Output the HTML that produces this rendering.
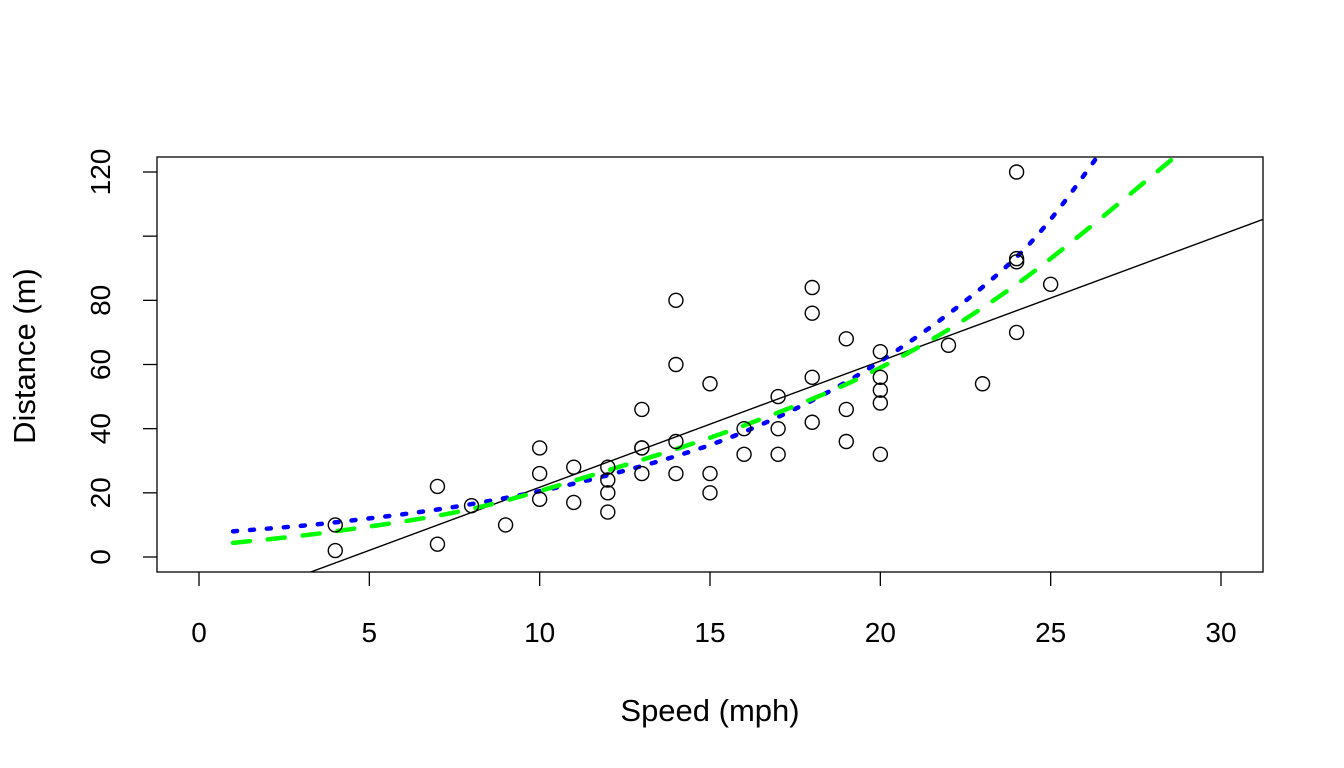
<!DOCTYPE html>
<html><head><meta charset="utf-8"><style>
html,body{margin:0;padding:0;background:#fff}
svg{display:block;font-family:"Liberation Sans",Arial,sans-serif}
</style></head><body>
<svg id="chart" width="1344" height="768">
<defs><clipPath id="pc"><rect x="157" y="157" width="1106" height="415"/></clipPath></defs>
<rect x="157" y="157" width="1106" height="415" fill="none" stroke="#000" stroke-width="1.3"/>
<g id="axes"></g>
<g id="marks" clip-path="url(#pc)"></g>
<text x="710" y="721" font-size="31" text-anchor="middle">Speed (mph)</text>
<text transform="translate(35,356) rotate(-90)" font-size="31" text-anchor="middle">Distance (m)</text>
</svg>
<script>
const speeds=[4,4,7,7,8,9,10,10,10,11,11,12,12,12,12,13,13,13,13,14,14,14,14,15,15,15,16,16,17,17,17,18,18,18,18,19,19,19,20,20,20,20,20,22,23,24,24,24,24,25];
const dists=[2,10,4,22,16,10,18,26,34,17,28,14,20,24,28,26,34,34,46,26,36,60,80,20,26,54,32,40,32,40,50,42,56,76,84,36,46,68,32,48,52,56,64,66,54,70,92,93,120,85];
const lmCoef=[-17.579,3.932];
const blueX=[1,4,8,12,16,20,24,26.6];
const blueY=[8,10.8,16.5,25.5,39,61,93.5,128];
const greenX=[1,4,8,12,16,20,24,28.8];
const greenY=[4.4,8,15,27,41,59,85,126];
const xTicks=[0,5,10,15,20,25,30];
const yTicks=[0,20,40,60,80,100,120];
const yTickLabels=["0","20","40","60","80","","120"];
const NS="http://www.w3.org/2000/svg";
const sx=v=>199+v*(1221-199)/30;
const sy=v=>557-v*(557-172)/120;
function mk(t,a,p){const e=document.createElementNS(NS,t);for(const k in a)e.setAttribute(k,a[k]);p.appendChild(e);return e;}
const axes=document.getElementById('axes'),marks=document.getElementById('marks');
xTicks.forEach(t=>{
 const l=mk('line',{x1:sx(t),x2:sx(t),y1:572,y2:586,stroke:'#000','stroke-width':1.3},axes);
 
 
 const tx=mk('text',{x:sx(t),y:642,'font-size':28,'text-anchor':'middle'},axes);tx.textContent=t;
 
 
});
yTicks.forEach((t,i)=>{
 const l=mk('line',{x1:143,x2:157,y1:sy(t),y2:sy(t),stroke:'#000','stroke-width':1.3},axes);
 
 
 const tx=mk('text',{transform:`translate(110,${sy(t)}) rotate(-90)`,'font-size':28,'text-anchor':'middle'},axes);tx.textContent=yTickLabels[i];
 
 
});
const lx0=0,lx1=32;
const fl=mk('line',{x1:sx(lx0),y1:sy(lmCoef[0]+lmCoef[1]*lx0),x2:sx(lx1),y2:sy(lmCoef[0]+lmCoef[1]*lx1),stroke:'#000','stroke-width':1.4},marks);


function smooth(xs,ys){
 const p=xs.map((x,i)=>[sx(x),sy(ys[i])]);let d=`M${p[0][0]},${p[0][1]}`;
 for(let i=0;i<p.length-1;i++){const p0=p[i-1]||p[i],p1=p[i],p2=p[i+1],p3=p[i+2]||p2;
  d+=` C${p1[0]+(p2[0]-p0[0])/6},${p1[1]+(p2[1]-p0[1])/6} ${p2[0]-(p3[0]-p1[0])/6},${p2[1]-(p3[1]-p1[1])/6} ${p2[0]},${p2[1]}`;}
 return d;}
const bl=mk('path',{d:smooth(blueX,blueY),fill:'none',stroke:'#0000ff','stroke-width':4.5,'stroke-dasharray':'4 13','stroke-linecap':'round'},marks);


const gr=mk('path',{d:smooth(greenX,greenY),fill:'none',stroke:'#00ff00','stroke-width':4.5,'stroke-dasharray':'17 18','stroke-linecap':'round'},marks);


speeds.forEach((s,i)=>{
 const c=mk('circle',{cx:sx(s),cy:sy(dists[i]),r:7,fill:'none',stroke:'#000','stroke-width':1.4},marks);
 
 
});
</script>
</body></html>
